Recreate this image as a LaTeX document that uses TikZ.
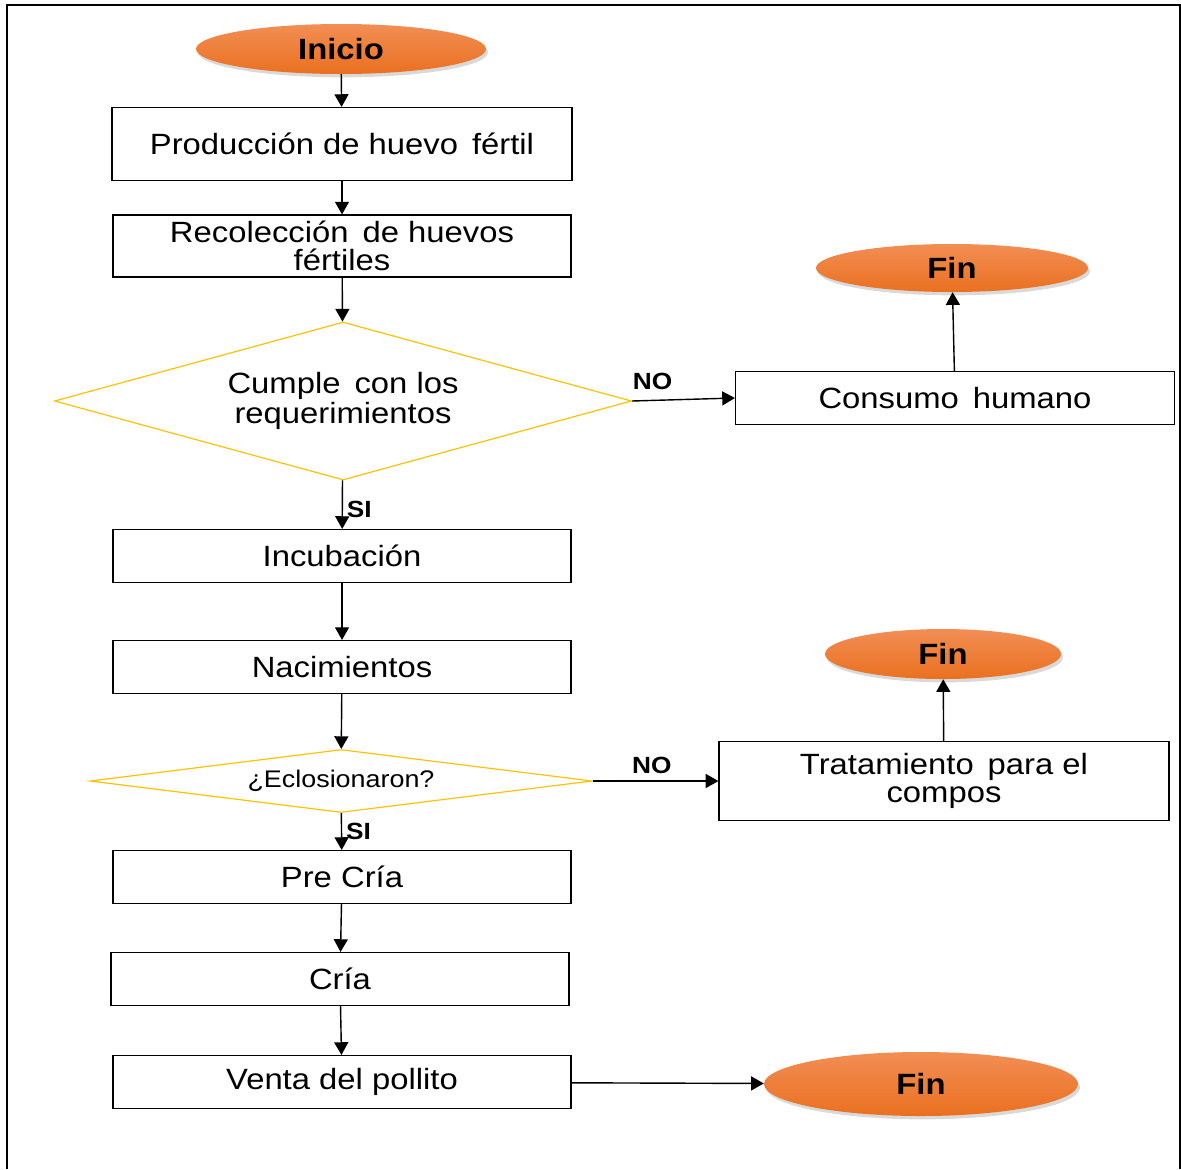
\documentclass[tikz,border=0pt]{standalone}
\usepackage{fontspec}
\setmainfont{Liberation Sans}
\newfontfamily\widefont[FakeStretch=1.12]{Liberation Sans}
\usepackage{xcolor}
\usetikzlibrary{shapes.geometric, arrows.meta, shadows, positioning}
\definecolor{fcorange}{RGB}{234, 112, 32}
\definecolor{fcorangelt}{RGB}{242, 142, 84}
\definecolor{fcyellow}{RGB}{255, 192, 0}

\tikzset{
  procbox/.style={draw, line width=1pt, minimum width=13.74cm, minimum height=1.59cm,
    font=\widefont\fontsize{25}{24.5}\selectfont, align=center, inner sep=0pt},
  endpoint/.style={ellipse, top color=fcorangelt, bottom color=fcorange,
    drop shadow={opacity=0.3, shadow xshift=0.6mm, shadow yshift=-1mm},
    font=\widefont\fontsize{25}{26}\selectfont\bfseries, inner sep=0pt},
  decision/.style={diamond, draw=fcyellow, line width=1pt, inner sep=0pt, align=center},
  flow/.style={line width=1.2pt, -{Triangle[length=3.8mm, width=4.2mm]}},
  answer/.style={font=\widefont\fontsize{20}{20}\selectfont\bfseries}
}

\begin{document}
\begin{tikzpicture}[x=0.03cm, y=-0.03cm]
\useasboundingbox (0,0) rectangle (1181,1169);
% frame
\draw[line width=1.5pt] (7,1169) -- (7,5) -- (1180,5) -- (1180,1169);

% main column
\node[endpoint, minimum width=8.7cm, minimum height=1.5cm] (inicio) at (341,49) {Inicio};
\node[procbox, minimum width=13.8cm, minimum height=2.19cm] (produccion) at (342,144) {Producción de huevo\, fértil};
\node[procbox, minimum height=1.86cm] (recoleccion) at (342,246) {Recolección\, de huevos\\fértiles};
\node[decision, minimum width=17.31cm, minimum height=4.74cm, aspect=3.65,
  font=\widefont\fontsize{25}{25.5}\selectfont] (cumple) at (343,401) {Cumple\, con los\\requerimientos};
\node[procbox] (incubacion) at (342,556) {Incubación};
\node[procbox] (nacimientos) at (342,667) {Nacimientos};
\node[decision, minimum width=15.06cm, minimum height=1.89cm, aspect=8,
  font=\widefont\fontsize{20.5}{22}\selectfont] (eclosion) at (341,781) {¿Eclosionaron?};
\node[procbox] (precria) at (342,877) {Pre Cría};
\node[procbox] (cria) at (340,979) {Cría};
\node[procbox] (venta) at (342,1082) {Venta del pollito};

% right column
\node[procbox, minimum width=13.17cm] (consumo) at (955,398) {Consumo\, humano};
\node[endpoint, minimum width=8.16cm, minimum height=1.44cm] (fin1) at (952,268) {Fin};
\node[procbox, minimum width=13.5cm, minimum height=2.37cm] (tratamiento) at (944,781) {Tratamiento\, para el\\compos};
\node[endpoint, minimum width=7.08cm, minimum height=1.5cm] (fin2) at (943,654) {Fin};
\node[endpoint, minimum width=9.42cm, minimum height=1.92cm] (fin3) at (921,1084) {Fin};

% connectors
\draw[flow] (inicio) -- (produccion);
\draw[flow] (produccion) -- (recoleccion);
\draw[flow] (recoleccion) -- (cumple);
\draw[flow] (cumple) -- (incubacion) node[answer, pos=0.6, right=0pt] {SI};
\draw[flow] (cumple.east) -- (consumo.west) node[answer, pos=0.2, above=5pt] {NO};
\draw[flow] (consumo) -- (fin1);
\draw[flow] (incubacion) -- (nacimientos);
\draw[flow] (nacimientos) -- (eclosion);
\draw[flow] (eclosion) -- (precria) node[answer, pos=0.5, right=0pt] {SI};
\draw[flow] (eclosion.east) -- (tratamiento.west) node[answer, pos=0.47, above=2pt] {NO};
\draw[flow] (tratamiento) -- (fin2);
\draw[flow] (precria) -- (cria);
\draw[flow] (cria) -- (venta);
\draw[flow] (venta) -- (fin3);
\end{tikzpicture}
\end{document}
